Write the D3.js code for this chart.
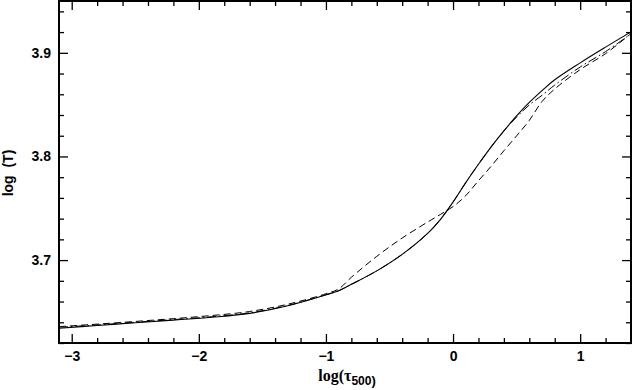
<!DOCTYPE html>
<html>
<head>
<meta charset="utf-8">
<script src="https://cdn.jsdelivr.net/npm/d3@7"></script>
<style>
  body { margin: 0; background: #fff; }
  text { font-family: "Liberation Sans", Arial, sans-serif; }
</style>
</head>
<body>
<svg id="chart" width="632" height="390"></svg>
<script>
// log(tau_500) grid and the three temperature models
const logTau = [-3.1, -2.8, -2.5, -2.2, -1.9, -1.6, -1.3, -1.0, -0.9, -0.8, -0.6, -0.4, -0.2, -0.1,
                0, 0.1, 0.2, 0.3, 0.4, 0.5, 0.6, 0.7, 0.8, 1.0, 1.2, 1.4];
const solidT = [3.6343, 3.6369, 3.6395, 3.6421, 3.6448, 3.6486, 3.6560, 3.6665, 3.6704, 3.6766, 3.6896, 3.7055, 3.7257, 3.7391,
                3.7560, 3.7748, 3.7925, 3.8093, 3.8247, 3.8391, 3.8521, 3.8635, 3.8740, 3.8903, 3.9055, 3.9202];
const dashedT = [3.6358, 3.6382, 3.6408, 3.6435, 3.6465, 3.6504, 3.6574, 3.6675, 3.6722, 3.6834, 3.7036, 3.7213, 3.7367, 3.7440,
                 3.7516, 3.7622, 3.7766, 3.7906, 3.8055, 3.8199, 3.8348, 3.8530, 3.8651, 3.8838, 3.8992, 3.9186];
const dashDotT = [3.6352, 3.6374, 3.6400, 3.6426, 3.6453, 3.6491, 3.6562, 3.6665, 3.6704, 3.6766, 3.6896, 3.7055, 3.7257, 3.7391,
                  3.7560, 3.7748, 3.7925, 3.8093, 3.8247, 3.8380, 3.8497, 3.8590, 3.8689, 3.8863, 3.9012, 3.9183];

const xTicks = [-3, -2, -1, 0, 1];
const yTicks = [3.7, 3.8, 3.9];

const mLeft = 59, mRight = 631, mTop = 1, mBottom = 343;

const svg = d3.select("#chart");

const x = d3.scaleLinear().domain([-3.1, 1.4]).range([mLeft, mRight]);
const y = d3.scaleLinear().domain([3.62, 3.95]).range([mBottom, mTop]);

const xMinor = d3.range(-3.0, 1.41, 0.2).map(v => +v.toFixed(1)).filter(v => !xTicks.includes(v));
const yMinor = d3.range(3.62, 3.951, 0.02).map(v => +v.toFixed(2)).filter(v => !yTicks.includes(v));

// clip for the curves
svg.append("clipPath").attr("id", "plot")
    .append("rect")
    .attr("x", mLeft).attr("y", mTop)
    .attr("width", mRight - mLeft).attr("height", mBottom - mTop);

const line = (vals) => d3.line()
    .x((d, i) => x(logTau[i]))
    .y(d => y(d))
    .curve(d3.curveCatmullRom.alpha(0.5))(vals);

const curves = svg.append("g").attr("clip-path", "url(#plot)")
    .attr("fill", "none").attr("stroke", "#000");

curves.append("path").attr("d", line(solidT)).attr("stroke-width", 1.1);
curves.append("path").attr("d", line(dashedT)).attr("stroke-width", 1)
    .attr("stroke-dasharray", "7,4");
curves.append("path").attr("d", line(dashDotT)).attr("stroke-width", 1)
    .attr("stroke-dasharray", "9,3,1.5,3");

// axes: major + minor on all four sides
const fmtY = d3.format(".1f");
const addAxis = (axis, tf) => {
    const g = svg.append("g").attr("transform", tf).call(axis);
    g.select(".domain").remove();
    g.selectAll(".tick line").attr("stroke", "#000").attr("stroke-width", 1.3);
    g.selectAll("text").attr("font-size", 14).attr("font-weight", "bold").attr("fill", "#000");
    return g;
};

addAxis(d3.axisBottom(x).tickValues(xTicks).tickSize(-9).tickPadding(8).tickFormat(d3.format("d")),
    `translate(0,${mBottom})`);
addAxis(d3.axisBottom(x).tickValues(xMinor).tickSize(-5).tickFormat(""), `translate(0,${mBottom})`);
addAxis(d3.axisTop(x).tickValues(xTicks).tickSize(-9).tickFormat(""), `translate(0,${mTop})`);
addAxis(d3.axisTop(x).tickValues(xMinor).tickSize(-5).tickFormat(""), `translate(0,${mTop})`);

addAxis(d3.axisLeft(y).tickValues(yTicks).tickSize(-9).tickPadding(8).tickFormat(fmtY),
    `translate(${mLeft},0)`);
addAxis(d3.axisLeft(y).tickValues(yMinor).tickSize(-5).tickFormat(""), `translate(${mLeft},0)`);
addAxis(d3.axisRight(y).tickValues(yTicks).tickSize(-9).tickFormat(""), `translate(${mRight},0)`);
addAxis(d3.axisRight(y).tickValues(yMinor).tickSize(-5).tickFormat(""), `translate(${mRight},0)`);

// frame
svg.append("rect")
    .attr("x", mLeft).attr("y", mTop)
    .attr("width", mRight - mLeft).attr("height", mBottom - mTop)
    .attr("fill", "none").attr("stroke", "#000").attr("stroke-width", 2);

// axis titles
const xt = svg.append("text")
    .attr("x", 347).attr("y", 381)
    .attr("text-anchor", "middle");
xt.append("tspan").text("log(τ")
    .style("font-family", "'Liberation Serif', 'Times New Roman', serif")
    .attr("font-weight", "bold").attr("font-size", 16);
xt.append("tspan").text("500").attr("dy", 4)
    .attr("font-weight", "bold").attr("font-size", 12);
xt.append("tspan").text(")").attr("dy", 0)
    .attr("font-weight", "bold").attr("font-size", 13);

svg.append("text")
    .attr("transform", "translate(13,173) rotate(-90)")
    .attr("text-anchor", "middle")
    .attr("font-size", 14).attr("font-weight", "bold")
    .style("white-space", "pre")
    .text("log  (T)");
</script>
</body>
</html>
